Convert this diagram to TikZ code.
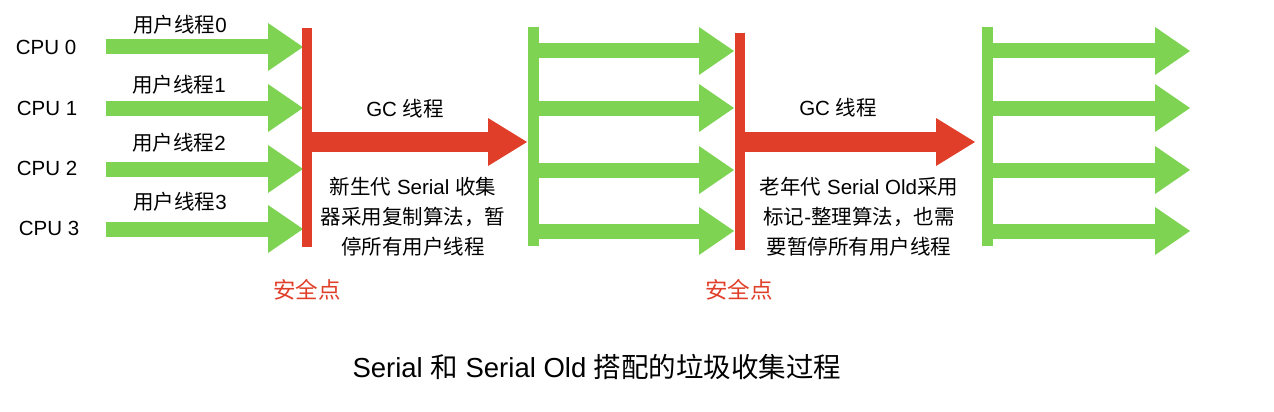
\documentclass[tikz,border=0pt]{standalone}
\usepackage{fontspec}
\setmainfont{Liberation Sans}
\newfontfamily\cjk{Noto Sans CJK SC}
\usetikzlibrary{arrows.meta}
\definecolor{ggreen}{RGB}{126,212,82}
\definecolor{gred}{RGB}{224,62,40}
\tikzset{
  garrow/.style={draw=ggreen, line width=15pt, line cap=butt,
    -{Triangle[length=35pt,width=48pt,line width=0pt]}},
  rarrow/.style={draw=gred, line width=20pt, line cap=butt,
    -{Triangle[length=39pt,width=48pt,line width=0pt]}},
  gbar/.style={draw=ggreen, line width=11pt, line cap=butt},
  rbar/.style={draw=gred, line width=10pt, line cap=butt},
  lbl/.style={inner sep=0pt, font=\fontsize{20.5}{24}\selectfont},
  desc/.style={inner sep=0pt, align=center, font=\fontsize{20.5}{30}\selectfont},
  safe/.style={inner sep=0pt, text=gred, font=\fontsize{22.5}{26}\selectfont\cjk},
}
\begin{document}
\begin{tikzpicture}[x=1pt,y=-1pt]
\useasboundingbox[fill=white] (0,0) rectangle (1274,412);
% bars coordinates
\coordinate (r1t) at (307,28);  \coordinate (r1b) at (307,247);
\coordinate (g2t) at (533.5,27); \coordinate (g2b) at (533.5,246);
\coordinate (r2t) at (740,33);  \coordinate (r2b) at (740,250);
\coordinate (g3t) at (987,27);  \coordinate (g3b) at (987,246);
% group 1 green arrows
\foreach \i/\y in {0/47,1/108,2/169,3/229}{
  \coordinate (a1s\i) at (106,\y);
  \coordinate (a1e\i) at (303,\y);
  \draw[garrow] (a1s\i) -- (a1e\i);
}
% group 2 green arrows
\foreach \i/\y in {0/51,1/108,2/170,3/231}{
  \coordinate (a2s\i) at (533,\y);
  \coordinate (a2e\i) at (734,\y);
  \draw[garrow] (a2s\i) -- (a2e\i);
}
% group 3 green arrows
\foreach \i/\y in {0/51,1/108,2/170,3/231}{
  \coordinate (a3s\i) at (987,\y);
  \coordinate (a3e\i) at (1190,\y);
  \draw[garrow] (a3s\i) -- (a3e\i);
}
\draw[gbar] (g2t) -- (g2b);
\draw[gbar] (g3t) -- (g3b);
% red arrows
\coordinate (rs1) at (307,142); \coordinate (re1) at (527,142);
\coordinate (rs2) at (740,142); \coordinate (re2) at (975,142);
\draw[rarrow] (rs1) -- (re1);
\draw[rarrow] (rs2) -- (re2);
\draw[rbar] (r1t) -- (r1b);
\draw[rbar] (r2t) -- (r2b);
% labels
\node[lbl] (cpu0) at (46,47) {CPU 0};
\node[lbl] (cpu1) at (47,108) {CPU 1};
\node[lbl] (cpu2) at (47,168) {CPU 2};
\node[lbl] (cpu3) at (49,228) {CPU 3};
\node[lbl] (t0) at (180,25) {{\cjk 用户线程}0};
\node[lbl] (t1) at (179,85) {{\cjk 用户线程}1};
\node[lbl] (t2) at (179,143) {{\cjk 用户线程}2};
\node[lbl] (t3) at (180,202) {{\cjk 用户线程}3};
\node[lbl] (gc1) at (405,109) {GC {\cjk 线程}};
\node[lbl] (gc2) at (838,108) {GC {\cjk 线程}};
\node[desc] (d1) at (413,217) {{\cjk 新生代} Serial {\cjk 收集}\\{\cjk 器采用复制算法，暂}\\{\cjk 停所有用户线程}};
\node[desc] (d2) at (859,217) {{\cjk 老年代} Serial Old{\cjk 采用}\\{\cjk 标记}-{\cjk 整理算法，也需}\\{\cjk 要暂停所有用户线程}};
\node[safe] (s1) at (307,290) {安全点};
\node[safe] (s2) at (739,290) {安全点};
\node[inner sep=0pt, font=\fontsize{27.5}{32}\selectfont] (title) at (597,367) {Serial {\cjk 和} Serial Old {\cjk 搭配的垃圾收集过程}};
\end{tikzpicture}
\end{document}
